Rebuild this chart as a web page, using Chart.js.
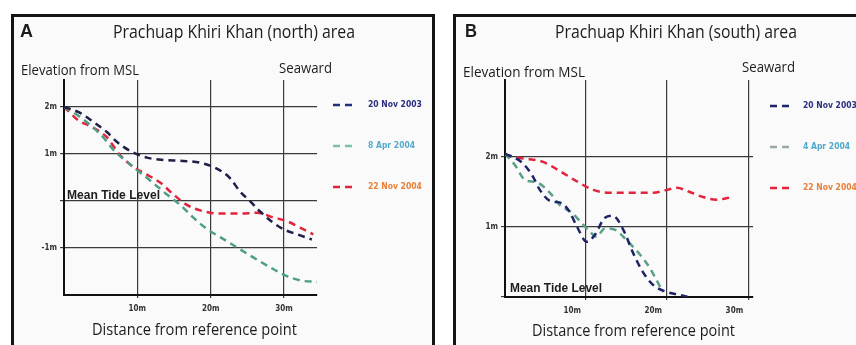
<!DOCTYPE html>
<html lang="en">
<head>
    <meta charset="UTF-8">
    <title>Prachuap Khiri Khan beach profiles</title>
    <script src="https://cdn.jsdelivr.net/npm/chart.js"></script>
    <style>
        body, html {
            margin: 0;
            padding: 0;
            width: 856px;
            height: 345px;
            overflow: hidden;
            background: #fff;
        }
        .frame {
            position: absolute;
            border: 3px solid #141414;
            background: #fafafa;
            z-index: 0;
        }
        canvas {
            position: absolute;
            top: 0;
            z-index: 1;
        }
        #labels {
            position: absolute;
            left: 0;
            top: 0;
            z-index: 2;
            pointer-events: none;
        }
    </style>
</head>
<body>
    <div class="frame" style="left:11px; top:14px; width:418px; height:400px;"></div>
    <div class="frame" style="left:453px; top:14px; width:500px; height:400px;"></div>
    <canvas id="northChart" width="440" height="345" style="left:0px;"></canvas>
    <canvas id="southChart" width="416" height="345" style="left:440px;"></canvas>
    <svg id="labels" width="856" height="345"></svg>

    <script>
        // Survey dates (legend)
        const surveyDates = ['20 Nov 2003', '8 Apr 2004', '22 Nov 2004'];
        const surveyDatesSouth = ['20 Nov 2003', '4 Apr 2004', '22 Nov 2004'];

        // Panel A - north area (distance m, elevation m)
        const northDistNov2003 = [0, 2.2, 4, 5.8, 7.4, 9.3, 11.3, 13.5, 16.2, 18.6, 20.9, 22.6, 24, 25.4, 26.7, 28.5, 29.9, 31.8, 33.8];
        const northElevNov2003 = [2.0, 1.87, 1.68, 1.47, 1.23, 1.04, 0.92, 0.87, 0.85, 0.81, 0.68, 0.49, 0.2, -0.01, -0.22, -0.46, -0.6, -0.71, -0.82];
        const northDistApr2004 = [0, 2.5, 5.3, 6.7, 8.6, 10.4, 12.1, 14, 15.8, 17.6, 19.5, 21.3, 23.6, 25.8, 28.1, 30.4, 32.6, 34.5];
        const northElevApr2004 = [2.0, 1.75, 1.36, 1.09, 0.83, 0.6, 0.39, 0.14, -0.08, -0.35, -0.6, -0.77, -0.99, -1.2, -1.41, -1.6, -1.7, -1.72];
        const northDistNov2004 = [0, 1.9, 3.8, 5.8, 7.6, 9.4, 11.3, 13.1, 14.9, 16.7, 19, 21.3, 24, 26.3, 28.5, 30.4, 32.2, 34];
        const northElevNov2004 = [2.0, 1.72, 1.57, 1.36, 0.98, 0.73, 0.56, 0.39, 0.14, -0.08, -0.22, -0.27, -0.27, -0.25, -0.35, -0.43, -0.57, -0.71];

        // Panel B - south area
        const southDistNov2003 = [0, 2.2, 3.5, 4.3, 5.6, 7, 8, 8.9, 10.1, 11.1, 12.3, 13.3, 14.6, 15.8, 17, 18.3, 20, 21.6, 23.5];
        const southElevNov2003 = [2.05, 1.91, 1.71, 1.53, 1.37, 1.34, 1.21, 1.0, 0.79, 0.89, 1.13, 1.16, 0.96, 0.63, 0.36, 0.17, 0.07, 0.03, -0.03];
        const southDistApr2004 = [0, 1.2, 2.5, 3.9, 5.6, 6.8, 8.2, 9.5, 10.5, 11.3, 12.3, 13.6, 15, 16.7, 17.9, 18.7, 19.5];
        const southElevApr2004 = [2.05, 1.89, 1.67, 1.64, 1.48, 1.31, 1.21, 1.05, 0.93, 0.86, 0.98, 0.96, 0.81, 0.6, 0.41, 0.24, 0.07];
        const southDistNov2004 = [0, 2.2, 4.7, 6.6, 8.9, 10.9, 13, 15.8, 18.3, 20, 21.2, 22.8, 24.4, 26.1, 28.1];
        const southElevNov2004 = [2.03, 1.98, 1.93, 1.81, 1.65, 1.53, 1.49, 1.49, 1.49, 1.53, 1.56, 1.5, 1.43, 1.39, 1.43];

        // Tick labels
        const xTicks = [10, 20, 30];
        const xTickLabels = ['10m', '20m', '30m'];
        const northYTicks = [2, 1, 0, -1];
        const northYTickLabels = ['2m', '1m', '', '-1m'];
        const southYTicks = [2, 1, 0];
        const southYTickLabels = ['2m', '1m', ''];

        const tickFont = { family: "'DejaVu Sans Condensed', 'Liberation Sans Narrow', sans-serif", size: 8, weight: 'bold' };

        function toPoints(xs, ys) {
            return xs.map((x, i) => ({ x: x, y: ys[i] }));
        }

        // small legend drawn to the right of the plot
        const sideLegend = {
            id: 'sideLegend',
            afterDraw(chart, args, opts) {
                const ctx = chart.ctx;
                chart.data.datasets.forEach((ds, i) => {
                    const y = opts.top + i * opts.gap;
                    ctx.save();
                    ctx.strokeStyle = opts.lineColors[i];
                    ctx.lineWidth = 2.5;
                    ctx.setLineDash([7, 5]);
                    ctx.beginPath();
                    ctx.moveTo(opts.x, y);
                    ctx.lineTo(opts.x + opts.len, y);
                    ctx.stroke();
                    ctx.setLineDash([]);
                    ctx.fillStyle = opts.textColors[i];
                    ctx.font = "bold 8.5px 'DejaVu Sans Condensed', sans-serif";
                    ctx.textBaseline = 'middle';
                    ctx.fillText(ds.label, opts.x + opts.len + opts.textGap, y);
                    ctx.restore();
                });
            }
        };

        function makeDataset(label, xs, ys, color) {
            return {
                label: label,
                data: toPoints(xs, ys),
                borderColor: color,
                borderWidth: 2.5,
                borderDash: [7, 5],
                pointRadius: 0,
                fill: false,
                cubicInterpolationMode: 'monotone'
            };
        }

        function makeChart(canvasId, datasets, cfg) {
            return new Chart(document.getElementById(canvasId), {
                type: 'line',
                data: { datasets: datasets },
                plugins: [sideLegend],
                options: {
                    responsive: false,
                    animation: false,
                    devicePixelRatio: 1,
                    layout: { padding: cfg.padding },
                    plugins: {
                        legend: { display: false },
                        tooltip: { enabled: false },
                        sideLegend: cfg.legend
                    },
                    scales: {
                        x: {
                            type: 'linear',
                            min: 0,
                            max: cfg.xMax,
                            afterFit: s => { s.height = cfg.xHeight; },
                            afterBuildTicks: s => { s.ticks = xTicks.map(v => ({ value: v })); },
                            ticks: {
                                callback: (v) => xTickLabels[xTicks.indexOf(v)],
                                font: tickFont,
                                color: '#333',
                                padding: 6,
                                maxRotation: 0,
                                align: cfg.xAlign,
                                labelOffset: cfg.xLabelOffset
                            },
                            grid: { color: '#3a3a3a', lineWidth: 1.2, tickLength: 3 },
                            border: { display: true, color: '#111', width: 2 }
                        },
                        y: {
                            type: 'linear',
                            min: cfg.yMin,
                            max: cfg.yMax,
                            afterFit: s => { s.width = cfg.yWidth; },
                            afterBuildTicks: s => { s.ticks = cfg.yTicks.map(v => ({ value: v })); },
                            ticks: {
                                callback: (v) => cfg.yTickLabels[cfg.yTicks.indexOf(v)],
                                font: tickFont,
                                color: '#333',
                                padding: 3
                            },
                            grid: { color: '#3a3a3a', lineWidth: 1.2, tickLength: 4 },
                            border: { display: true, color: '#111', width: 2 }
                        }
                    }
                }
            });
        }

        makeChart('northChart', [
            makeDataset(surveyDates[0], northDistNov2003, northElevNov2003, '#1f1f48'),
            makeDataset(surveyDates[1], northDistApr2004, northElevApr2004, '#4c9e87'),
            makeDataset(surveyDates[2], northDistNov2004, northElevNov2004, '#e2233c')
        ], {
            padding: { top: 80, left: 0, right: 123, bottom: 0 },
            xMax: 34.5, xHeight: 50, yWidth: 64,
            yMin: -2.0, yMax: 2.57,
            yTicks: northYTicks, yTickLabels: northYTickLabels,
            xAlign: 'center', xLabelOffset: 0,
            legend: {
                x: 333, len: 24, textGap: 11, top: 105, gap: 41,
                lineColors: ['#22307a', '#7cc0a6', '#e2233c'],
                textColors: ['#2a3080', '#58aacb', '#e8803a']
            }
        });

        makeChart('southChart', [
            makeDataset(surveyDatesSouth[0], southDistNov2003, southElevNov2003, '#1d2366'),
            makeDataset(surveyDatesSouth[1], southDistApr2004, southElevApr2004, '#5aa088'),
            makeDataset(surveyDatesSouth[2], southDistNov2004, southElevNov2004, '#e2233c')
        ], {
            padding: { top: 80, left: 0, right: 103, bottom: 0 },
            xMax: 30.6, xHeight: 48, yWidth: 65,
            yMin: 0, yMax: 3.1,
            yTicks: southYTicks, yTickLabels: southYTickLabels,
            xAlign: 'end', xLabelOffset: -5,
            legend: {
                x: 330, len: 22, textGap: 11, top: 106, gap: 41,
                lineColors: ['#1d2366', '#9aa8a8', '#e2233c'],
                textColors: ['#2a3080', '#4fa9c9', '#e8803a']
            }
        });

        // panel titles and annotations as svg text
        const labelSpecs = [
            { t: 'A', x: 20, y: 37, size: 19, bold: true, len: 13 },
            { t: 'Prachuap Khiri Khan (north) area', x: 113, y: 37.5, size: 18, len: 242 },
            { t: 'Elevation from MSL', x: 21, y: 75, size: 15, len: 118 },
            { t: 'Seaward', x: 279, y: 73, size: 15, len: 53 },
            { t: 'Distance from reference point', x: 92, y: 335, size: 16, len: 205 },
            { t: 'Mean Tide Level', x: 67, y: 199, size: 12, bold: true, len: 93 },
            { t: 'B', x: 465, y: 37, size: 19, bold: true, len: 12 },
            { t: 'Prachuap Khiri Khan (south) area', x: 555, y: 38, size: 18, len: 242 },
            { t: 'Elevation from MSL', x: 463, y: 77, size: 15, len: 122 },
            { t: 'Seaward', x: 742, y: 72, size: 15, len: 53 },
            { t: 'Distance from reference point', x: 532, y: 336, size: 16, len: 203 },
            { t: 'Mean Tide Level', x: 510, y: 292, size: 12, bold: true, len: 92 }
        ];
        const svg = document.getElementById('labels');
        labelSpecs.forEach(s => {
            const el = document.createElementNS('http://www.w3.org/2000/svg', 'text');
            el.setAttribute('x', s.x);
            el.setAttribute('y', s.y);
            el.setAttribute('font-size', s.size);
            el.setAttribute('font-family', s.bold ? "'Liberation Sans', Arial, sans-serif" : "'Open Sans', sans-serif");
            if (s.bold) el.setAttribute('font-weight', 'bold');
            el.setAttribute('fill', '#1c1c1c');
            el.setAttribute('textLength', s.len);
            el.setAttribute('lengthAdjust', 'spacingAndGlyphs');
            el.textContent = s.t;
            svg.appendChild(el);
        });
    </script>
</body>
</html>
